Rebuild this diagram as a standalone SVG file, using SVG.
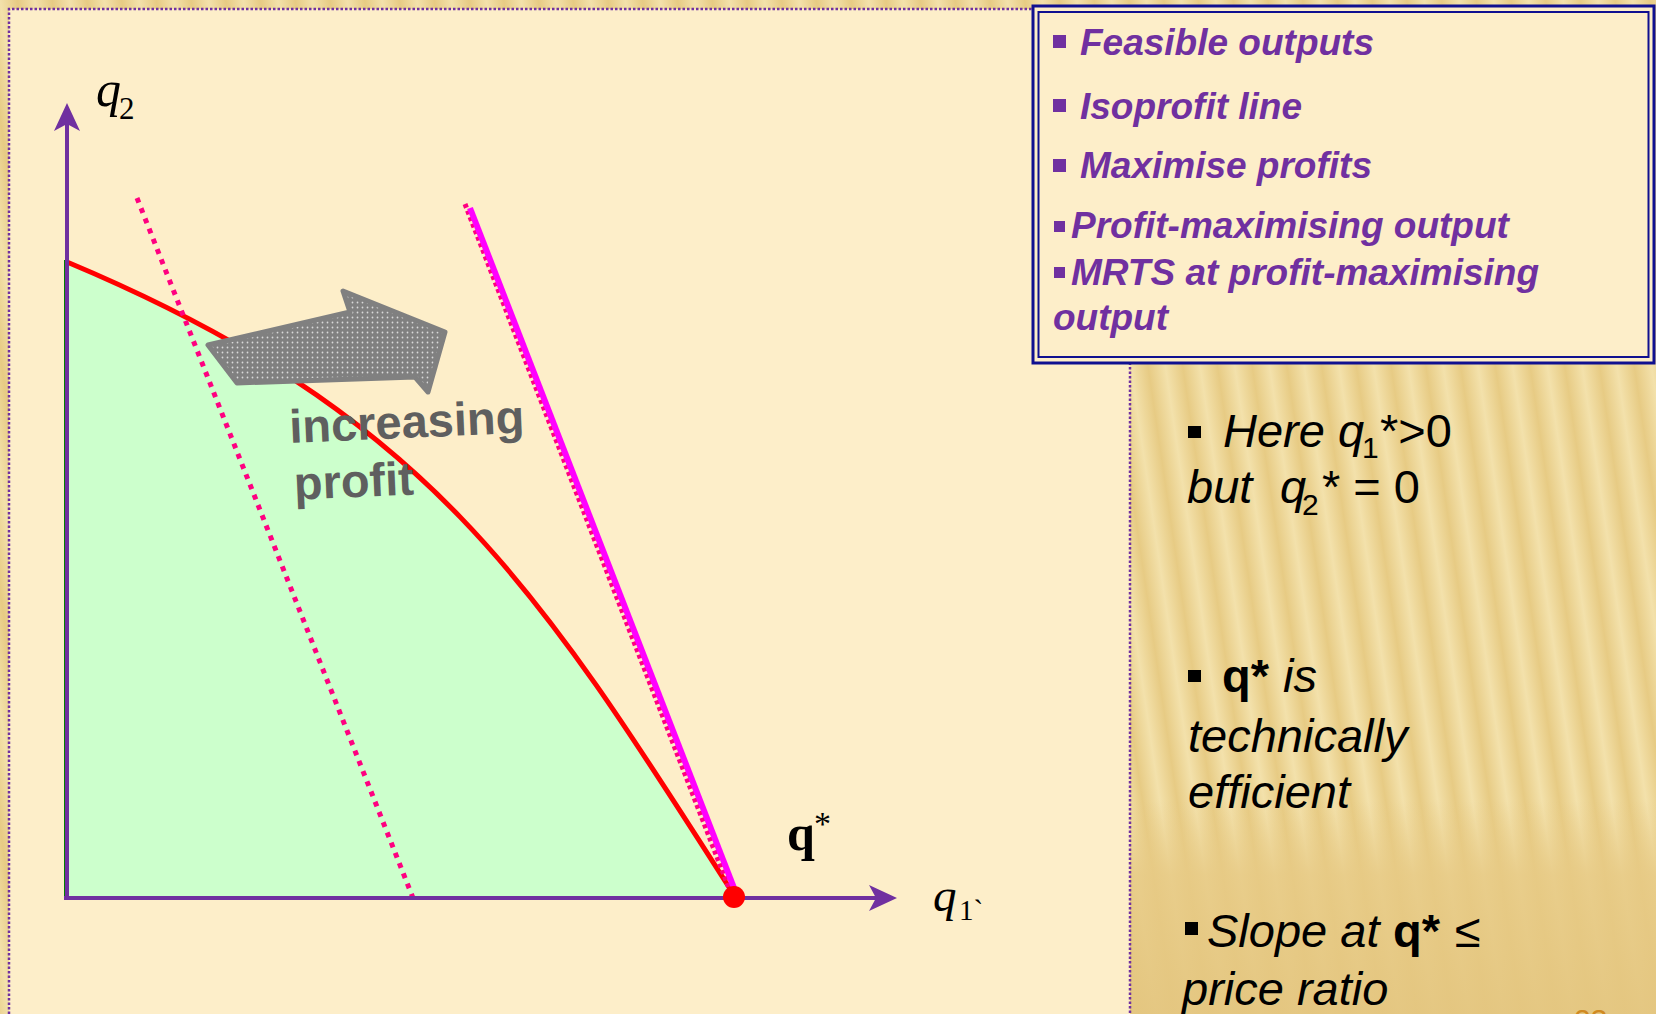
<svg xmlns="http://www.w3.org/2000/svg" width="1656" height="1014" viewBox="0 0 1656 1014">
<style>
.leg{font-family:"Liberation Sans",Arial,sans-serif;font-weight:bold;font-style:italic;font-size:37px;fill:#7030a0}
.txt{font-family:"Liberation Sans",Arial,sans-serif;font-style:italic;font-size:47px;fill:#000}
.up{font-style:normal}
.bd{font-weight:bold;font-style:normal}
.sub{font-size:30px;font-style:normal}
.math{font-family:"Liberation Serif","Times New Roman",serif;fill:#000}
.axis{stroke:#7030a0;stroke-width:4;fill:none}
.bul{fill:#7030a0}
.bk{fill:#000}
.border{fill:none;stroke:#7030a0;stroke-width:2.5;stroke-dasharray:2.5 2}
</style>
<defs>
  <linearGradient id="gold" gradientUnits="userSpaceOnUse" x1="0" y1="0" x2="34" y2="-5" spreadMethod="repeat">
    <stop offset="0" stop-color="#f3e1ab"/>
    <stop offset="0.5" stop-color="#e7cb84"/>
    <stop offset="1" stop-color="#f3e1ab"/>
  </linearGradient>
  <linearGradient id="fade" x1="0" y1="0" x2="0" y2="1">
    <stop offset="0" stop-color="#e7ca85" stop-opacity="0"/>
    <stop offset="0.35" stop-color="#e7ca85" stop-opacity="0.85"/>
    <stop offset="1" stop-color="#e4c680" stop-opacity="0.95"/>
  </linearGradient>
  <pattern id="dots" width="5" height="5" patternUnits="userSpaceOnUse">
    <rect width="5" height="5" fill="#808080"/>
    <circle cx="2.5" cy="2.5" r="0.9" fill="#d9d9d9"/>
  </pattern>
  <marker id="arr" viewBox="0 0 28 26" refX="21" refY="13" markerWidth="28" markerHeight="26" markerUnits="userSpaceOnUse" orient="auto">
    <path d="M0,0 L28,13 L0,26 L7,13 Z" fill="#7030a0"/>
  </marker>
</defs>

<g id="background">
  <rect width="1656" height="1014" fill="url(#gold)"/>
  <rect x="1130" y="800" width="526" height="214" fill="url(#fade)"/>
  <rect x="9" y="9" width="1121" height="1010" fill="#fdeec9"/>
  <path class="border" d="M9,1014 V9 H1130 V1014"/>
</g>

<g id="feasible-set">
  <path d="M67,262 C427,413 534,581 734,895 L734,898 L66,898 Z" fill="#ccffcc"/>
  <line x1="64.5" y1="260" x2="64.5" y2="898" stroke="#008000" stroke-width="1"/>
</g>

<g id="connectors">
  <path id="frontier" d="M67,262 C427,413 534,581 734,895" fill="none" stroke="#ff0000" stroke-width="5"/>
  <line id="isoprofit-low" x1="137" y1="198" x2="413" y2="898" stroke="#ff0080" stroke-width="5" stroke-dasharray="5 6"/>
  <line id="isoprofit-high-dotted" x1="465" y1="204" x2="732" y2="896" stroke="#ff0080" stroke-width="5" stroke-dasharray="4 3"/>
  <line id="isoprofit-high" x1="470" y1="208" x2="736" y2="893" stroke="#ff00ff" stroke-width="6"/>
  <line id="x-axis" class="axis" x1="64" y1="898" x2="890" y2="898" marker-end="url(#arr)"/>
  <line id="y-axis" class="axis" x1="67" y1="900" x2="67" y2="110" marker-end="url(#arr)"/>
</g>

<g id="profit-arrow">
  <polygon points="208,345 350,312 343,291 445,332 428,392 415,377 237,383" fill="url(#dots)" stroke="#808080" stroke-width="5" stroke-linejoin="round"/>
  <g transform="rotate(-2.5 290 443)" font-family="'Liberation Sans',Arial,sans-serif" font-weight="bold" font-size="47" fill="#5f5f5f">
    <text x="290" y="443">increasing</text>
    <text x="292" y="500">profit</text>
  </g>
</g>

<g id="optimum">
  <circle cx="734" cy="897" r="11" fill="#ff0000"/>
  <text class="math" x="787" y="850" font-size="50" font-weight="bold">q</text>
  <text class="math" x="814" y="835" font-size="34">*</text>
</g>

<g id="axis-labels">
  <text class="math" x="96" y="106" font-size="50" font-style="italic">q</text>
  <text class="math" x="119" y="119" font-size="31">2</text>
  <text class="math" x="933" y="911" font-size="47" font-style="italic">q</text>
  <text class="math" x="959" y="920" font-size="29">1`</text>
</g>

<g id="legend">
  <rect x="1033" y="6" width="621" height="357" fill="#fdeec9" stroke="#101090" stroke-width="3"/>
  <rect x="1038.5" y="12" width="610" height="345" fill="none" stroke="#101090" stroke-width="2"/>
  <rect class="bul" x="1053" y="35" width="13" height="13"/>
  <text class="leg" x="1080" y="55">Feasible outputs</text>
  <rect class="bul" x="1053" y="99" width="13" height="13"/>
  <text class="leg" x="1080" y="119">Isoprofit line</text>
  <rect class="bul" x="1053" y="159" width="13" height="13"/>
  <text class="leg" x="1080" y="178">Maximise profits</text>
  <rect class="bul" x="1054" y="221" width="11" height="11"/>
  <text class="leg" x="1071" y="238">Profit-maximising output</text>
  <rect class="bul" x="1054" y="267" width="11" height="11"/>
  <text class="leg" x="1071" y="285">MRTS at profit-maximising</text>
  <text class="leg" x="1053" y="330">output</text>
</g>

<g id="notes">
  <rect class="bk" x="1188" y="426" width="13" height="12"/>
  <text class="txt" x="1223" y="447">Here q</text>
  <text class="txt sub" x="1362" y="458">1</text>
  <text class="txt up" x="1380" y="447">*&gt;0</text>
  <text class="txt" x="1187" y="503">but</text>
  <text class="txt" x="1280" y="503">q</text>
  <text class="txt sub" x="1302" y="515">2</text>
  <text class="txt up" x="1322" y="503">* = 0</text>

  <rect class="bk" x="1188" y="670" width="13" height="12"/>
  <text class="txt bd" x="1222" y="692">q*</text>
  <text class="txt" x="1283" y="692">is</text>
  <text class="txt" x="1188" y="752">technically</text>
  <text class="txt" x="1188" y="808">efficient</text>

  <rect class="bk" x="1185" y="922" width="13" height="13"/>
  <text class="txt" x="1207" y="947">Slope at</text>
  <text class="txt bd" x="1393" y="947">q*</text>
  <text class="txt up" x="1455" y="947">≤</text>
  <text class="txt" x="1182" y="1005">price ratio</text>
  <text x="1574" y="1030" font-family="'Liberation Sans',Arial,sans-serif" font-size="30" fill="#d08a22">23</text>
</g>
</svg>
